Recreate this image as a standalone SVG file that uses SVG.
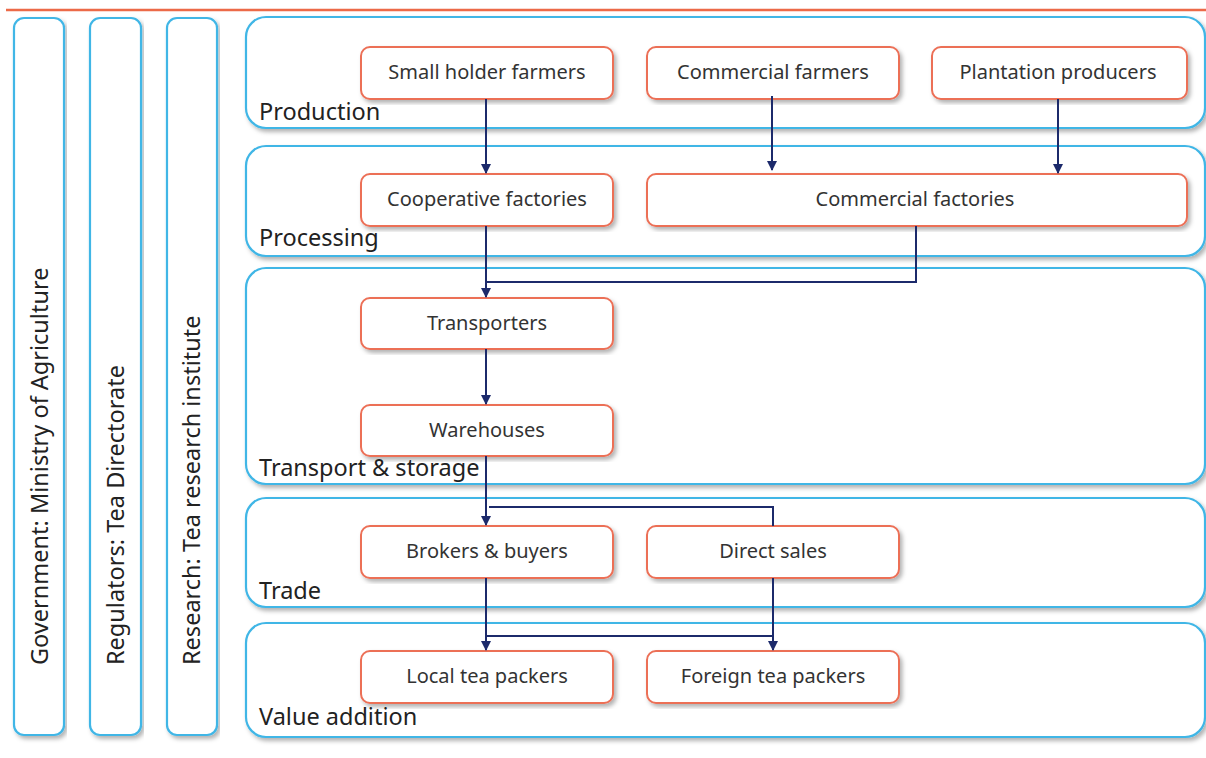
<svg xmlns="http://www.w3.org/2000/svg" width="1206" height="758" viewBox="0 0 1206 758">
<style>
.lane{fill:#fff;stroke:#41b6e6;stroke-width:2.2;filter:url(#sh)}
.node{fill:#fff;stroke:#ec6f57;stroke-width:2;filter:url(#sh)}
.nt{font-family:"Noto Sans",sans-serif;font-size:20px;fill:#333;text-anchor:middle}
.lt{font-family:"Noto Sans",sans-serif;font-size:23.5px;fill:#222}
.vt{font-family:"Noto Sans",sans-serif;font-size:23.5px;fill:#222}
.c{fill:none;stroke:#1c2a6b;stroke-width:2}
</style>
<defs>
<filter id="sh" x="-5%" y="-5%" width="110%" height="115%">
<feDropShadow dx="2.5" dy="3" stdDeviation="2" flood-color="#000" flood-opacity="0.3"/>
</filter>
<marker id="ah" viewBox="0 0 10 10" refX="9" refY="5" markerWidth="10" markerHeight="10" markerUnits="userSpaceOnUse" orient="auto">
<path d="M0,0 L10,5 L0,10 z" fill="#1c2a6b"/>
</marker>
</defs>
<rect width="1206" height="758" fill="#fff"/>
<line x1="6" y1="10" x2="1206" y2="10" stroke="#ec6a48" stroke-width="2.5"/>

<g id="gov"><rect class="lane" x="14" y="18" width="50" height="717" rx="10"/><text class="vt" transform="translate(48,665) rotate(-90)">Government: Ministry of Agriculture</text></g>
<g id="reg"><rect class="lane" x="90" y="18" width="51" height="717" rx="10"/><text class="vt" transform="translate(124,665) rotate(-90)">Regulators: Tea Directorate</text></g>
<g id="res"><rect class="lane" x="167" y="18" width="50" height="717" rx="10"/><text class="vt" transform="translate(200,665) rotate(-90)">Research: Tea research institute</text></g>

<g id="production"><rect class="lane" x="246" y="17" width="959" height="111" rx="20"/><text class="lt" x="259" y="120">Production</text></g>
<g id="processing"><rect class="lane" x="246" y="146" width="959" height="110" rx="20"/><text class="lt" x="259" y="246">Processing</text></g>
<g id="transport"><rect class="lane" x="246" y="268" width="959" height="216" rx="20"/><text class="lt" x="259" y="476">Transport &amp; storage</text></g>
<g id="trade"><rect class="lane" x="246" y="498" width="959" height="109" rx="20"/><text class="lt" x="259" y="599">Trade</text></g>
<g id="value"><rect class="lane" x="246" y="623" width="959" height="114" rx="20"/><text class="lt" x="259" y="725">Value addition</text></g>

<g id="smallholder"><rect class="node" x="361" y="47" width="252" height="52" rx="9"/><text class="nt" x="487" y="79">Small holder farmers</text></g>
<g id="commfarmers"><rect class="node" x="647" y="47" width="252" height="52" rx="9"/><text class="nt" x="773" y="79">Commercial farmers</text></g>
<g id="plantation"><rect class="node" x="932" y="47" width="255" height="52" rx="9"/><text class="nt" x="1058" y="79">Plantation producers</text></g>
<g id="coopfact"><rect class="node" x="361" y="174" width="252" height="52" rx="9"/><text class="nt" x="487" y="206">Cooperative factories</text></g>
<g id="commfact"><rect class="node" x="647" y="174" width="540" height="52" rx="9"/><text class="nt" x="915" y="206">Commercial factories</text></g>
<g id="transporters"><rect class="node" x="361" y="298" width="252" height="51" rx="9"/><text class="nt" x="487" y="330">Transporters</text></g>
<g id="warehouses"><rect class="node" x="361" y="405" width="252" height="51" rx="9"/><text class="nt" x="487" y="437">Warehouses</text></g>
<g id="brokers"><rect class="node" x="361" y="526" width="252" height="52" rx="9"/><text class="nt" x="487" y="558">Brokers &amp; buyers</text></g>
<g id="direct"><rect class="node" x="647" y="526" width="252" height="52" rx="9"/><text class="nt" x="773" y="558">Direct sales</text></g>
<g id="local"><rect class="node" x="361" y="651" width="252" height="52" rx="9"/><text class="nt" x="487" y="683">Local tea packers</text></g>
<g id="foreign"><rect class="node" x="647" y="651" width="252" height="52" rx="9"/><text class="nt" x="773" y="683">Foreign tea packers</text></g>

<g id="connectors">
<path class="c" d="M486,99 V173" marker-end="url(#ah)"/>
<path class="c" d="M772,96 V170" marker-end="url(#ah)"/>
<path class="c" d="M1058,99 V173" marker-end="url(#ah)"/>
<path class="c" d="M486,226 V297" marker-end="url(#ah)"/>
<path class="c" d="M916,226 V282 H486"/>
<path class="c" d="M486,349 V404" marker-end="url(#ah)"/>
<path class="c" d="M486,456 V525" marker-end="url(#ah)"/>
<path class="c" d="M773,526 V507 H489"/>
<path class="c" d="M486,578 V650" marker-end="url(#ah)"/>
<path class="c" d="M773,578 V650" marker-end="url(#ah)"/>
<path class="c" d="M486,636 H773"/>
</g>
</svg>
